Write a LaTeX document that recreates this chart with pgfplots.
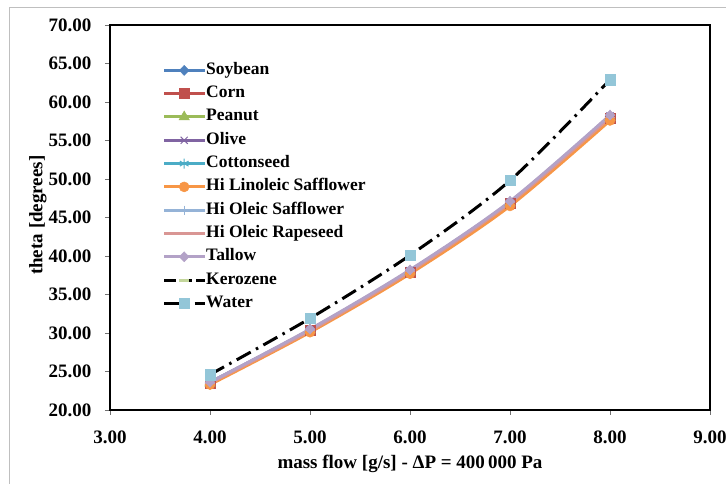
\documentclass[border=0pt]{standalone}
\usepackage{fontspec}
\setmainfont{Liberation Serif}
\usepackage{pgfplots}
\pgfplotsset{compat=1.18}

\definecolor{soy}{HTML}{4F81BD}
\definecolor{corn}{HTML}{C0504D}
\definecolor{peanut}{HTML}{9BBB59}
\definecolor{olive}{HTML}{8064A2}
\definecolor{cotton}{HTML}{4BACC6}
\definecolor{hilin}{HTML}{F79646}
\definecolor{hisaff}{HTML}{95B3D7}
\definecolor{hirape}{HTML}{D99694}
\definecolor{tallow}{HTML}{B3A2C7}
\definecolor{kero}{HTML}{C3D69B}
\definecolor{water}{HTML}{93C6D8}
\definecolor{frame}{HTML}{BFBFBF}

\begin{document}
\begin{tikzpicture}
\useasboundingbox (-110pt,-74pt) rectangle (616pt,410pt);
\begin{axis}[
  scale only axis, width=600pt, height=385pt,
  xmin=3, xmax=9, ymin=20, ymax=70,
  xtick={3,4,5,6,7,8,9}, ytick={20,25,30,35,40,45,50,55,60,65,70},
  tick align=outside, major tick length=5pt,
  tick style={frame!60!black, line width=0.8pt},
  xtick pos=bottom, ytick pos=left,
  axis line style={black, line width=1.4pt},
  /pgf/number format/fixed, /pgf/number format/fixed zerofill,
  /pgf/number format/precision=2, /pgf/number format/assume math mode=true,
  ticklabel style={font=\fontsize{19}{21}\selectfont\bfseries},
  xticklabel style={yshift=-12pt},
  yticklabel style={xshift=-10pt},
  xlabel={mass flow [g/s] - ΔP = 400\,000 Pa},
  ylabel={theta [degrees]},
  xlabel style={font=\fontsize{19}{21}\selectfont\bfseries,
    at={(axis description cs:0.5,0)}, anchor=base, yshift=-59pt},
  ylabel style={font=\fontsize{19}{21}\selectfont\bfseries,
    at={(axis description cs:0,0.506)}, anchor=center, yshift=72pt},
  every axis plot/.append style={line width=3pt, smooth, mark size=5pt},
  legend style={at={(rel axis cs:0.0875,0.9047)}, anchor=north west, draw=none, fill=none,
    inner sep=0pt, row sep=6.3pt, font=\fontsize{17.5}{19}\selectfont\bfseries,
    nodes={text height=12pt, text depth=4pt, inner sep=0.5pt}},
  legend cell align=left,
  legend image code/.code={\draw[mark repeat=2, mark phase=2]
    plot coordinates {(0pt,0pt) (20pt,0pt) (40pt,0pt)};},
]
\addplot[soy, mark=diamond*, mark options={solid, fill=soy, line width=0.5pt, xscale=1.3}] coordinates {
  (4,23.5) (5,30.4) (6,38.0) (7,46.9) (8,58.1)};
\addlegendentry{Soybean}
\addplot[corn, mark=square*, mark options={solid, fill=corn, line width=0.5pt}, mark size=5pt] coordinates {
  (4,23.5) (5,30.3) (6,37.9) (7,46.8) (8,57.9)};
\addlegendentry{Corn}
\addplot[peanut, mark=triangle*, mark options={solid, fill=peanut, line width=0.5pt}, mark size=6pt] coordinates {
  (4,23.5) (5,30.4) (6,38.0) (7,46.9) (8,58.0)};
\addlegendentry{Peanut}
\addplot[olive, mark=x, mark options={solid, line width=1pt}, mark size=5pt] coordinates {
  (4,23.6) (5,30.4) (6,38.1) (7,47.0) (8,58.2)};
\addlegendentry{Olive}
\addplot[cotton, mark=asterisk, mark options={solid, line width=1pt}, mark size=5pt] coordinates {
  (4,23.5) (5,30.3) (6,37.9) (7,46.8) (8,57.9)};
\addlegendentry{Cottonseed}
\addplot[hilin, mark=*, mark options={solid, fill=hilin, line width=0.5pt}, mark size=5pt] coordinates {
  (4,23.3) (5,30.1) (6,37.7) (7,46.5) (8,57.6)};
\addlegendentry{Hi Linoleic Safflower}
\addplot[hisaff, mark=|, mark options={solid, line width=1pt}, mark size=4.5pt] coordinates {
  (4,23.6) (5,30.4) (6,38.1) (7,47.0) (8,58.2)};
\addlegendentry{Hi Oleic Safflower}
\addplot[hirape, mark=-, mark options={solid, line width=1pt}, mark size=5pt] coordinates {
  (4,23.5) (5,30.3) (6,38.0) (7,46.9) (8,58.0)};
\addlegendentry{Hi Oleic Rapeseed}
\addplot[tallow, mark=diamond*, mark options={solid, fill=tallow, line width=0.5pt, xscale=1.3}, mark size=5pt] coordinates {
  (4,23.6) (5,30.5) (6,38.2) (7,47.1) (8,58.3)};
\addlegendentry{Tallow}
\addlegendimage{black, line width=3pt, dash pattern=on 12pt off 4pt, mark=-,
  mark options={solid, kero, line width=3pt}, mark size=5pt}
\addlegendentry{Kerozene}
\addplot[black, dash pattern=on 16pt off 6pt on 2.5pt off 6pt, mark=square*,
  mark options={solid, draw=water, fill=water, line width=0.5pt}, mark size=5.2pt] coordinates {
  (4,24.6) (5,31.9) (6,40.1) (7,49.8) (8,62.9)};
\addlegendentry{Water}
\end{axis}
\draw[frame, line width=1pt] (-100pt,-90pt) rectangle (630pt,402pt);
\end{tikzpicture}
\end{document}
